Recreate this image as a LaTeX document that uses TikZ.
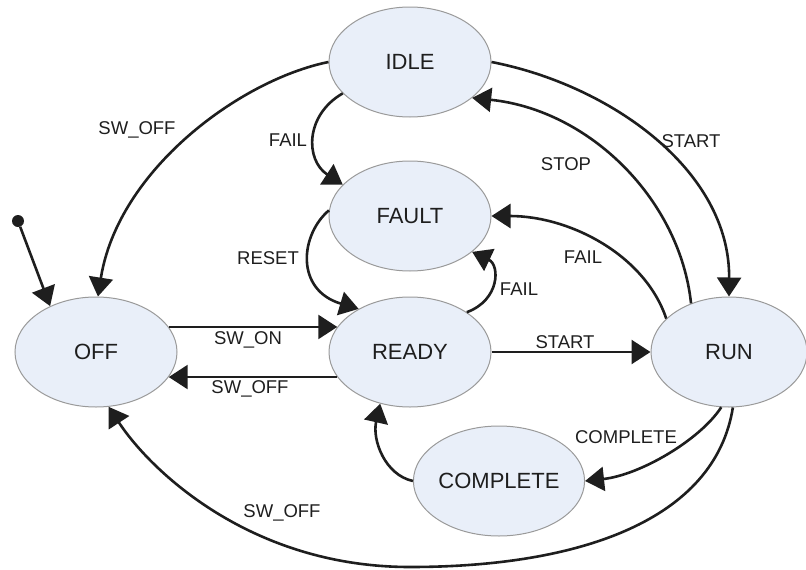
\documentclass[tikz,border=0pt]{standalone}
\usepackage{fontspec}
\setmainfont{Liberation Sans}
\usetikzlibrary{shapes.geometric,arrows.meta}
\definecolor{statefill}{HTML}{E9EFF9}
\definecolor{stateline}{HTML}{9A9A9A}
\definecolor{ink}{HTML}{1E1E1E}
\begin{document}
\begin{tikzpicture}[x=1pt,y=-1pt,
  state/.style={ellipse, draw=stateline, fill=statefill, line width=1pt,
    minimum width=162pt, minimum height=110pt, inner sep=0pt,
    font=\fontsize{22}{26}\selectfont, text=ink},
  trans/.style={draw=ink, line width=2.6pt, -{Triangle[length=19pt,width=24pt]}},
  lbl/.style={font=\fontsize{18.5}{22}\selectfont, text=ink, inner sep=0pt}]
\useasboundingbox (0,0) rectangle (806,570);

% states
\node[state] (idle) at (410,62) {IDLE};
\node[state] (fault) at (410,216) {FAULT};
\node[state] (off) at (96,352) {OFF};
\node[state] (ready) at (410,352) {READY};
\node[state, minimum width=156pt] (run) at (729,352) {RUN};
\node[state, minimum width=164pt] (complete) at (499,481) {COMPLETE};

% initial marker
\node[circle, fill=ink, inner sep=0pt, minimum size=12pt] (init) at (18,221) {};
\draw[trans] (init) -- (off.135);

% transitions
\draw[trans] (idle.180) .. controls (240,80) and (118,170) .. (off.88);
\draw[trans] (idle.205) .. controls (305,115) and (305,160) .. (fault.155);
\draw[trans] (fault.176) .. controls (300,235) and (295,290) .. (ready.140);
\draw[trans] (ready.35) .. controls (500,300) and (500,265) .. (fault.330);
\draw[trans] (off.19) -- (ready.161);
\draw[trans] (ready.199) -- (off.341);
\draw[trans] (ready.east) -- (run.west);
\draw[trans] (idle.0) .. controls (610,85) and (730,170) .. (run.90);
\draw[trans] (run.128) .. controls (680,200) and (590,110) .. (idle.330);
\draw[trans] (run.152) .. controls (645,255) and (570,216) .. (fault.0);
\draw[trans] (run.262) .. controls (700,440) and (640,475) .. (complete.0);
\draw[trans] (complete.180) .. controls (385,475) and (372,440) .. (ready.240);
\draw[trans] (run.274) .. controls (715,520) and (580,567) .. (410,567)
  .. controls (250,567) and (150,470) .. (off.283);

% labels
\node[lbl] (l1) at (137,130) {SW\_OFF};
\node[lbl] (l2) at (288,140) {FAIL};
\node[lbl] (l3) at (268,258) {RESET};
\node[lbl] (l4) at (519,289) {FAIL};
\node[lbl] (l5) at (691,141) {START};
\node[lbl] (l6) at (566,164) {STOP};
\node[lbl] (l7) at (583,257) {FAIL};
\node[lbl] (l8) at (248,340) {SW\_ON};
\node[lbl] (l9) at (250,389) {SW\_OFF};
\node[lbl] (l10) at (282,513) {SW\_OFF};
\node[lbl] (l11) at (565,342) {START};
\node[lbl] (l12) at (626,437) {COMPLETE};
\end{tikzpicture}
\end{document}
